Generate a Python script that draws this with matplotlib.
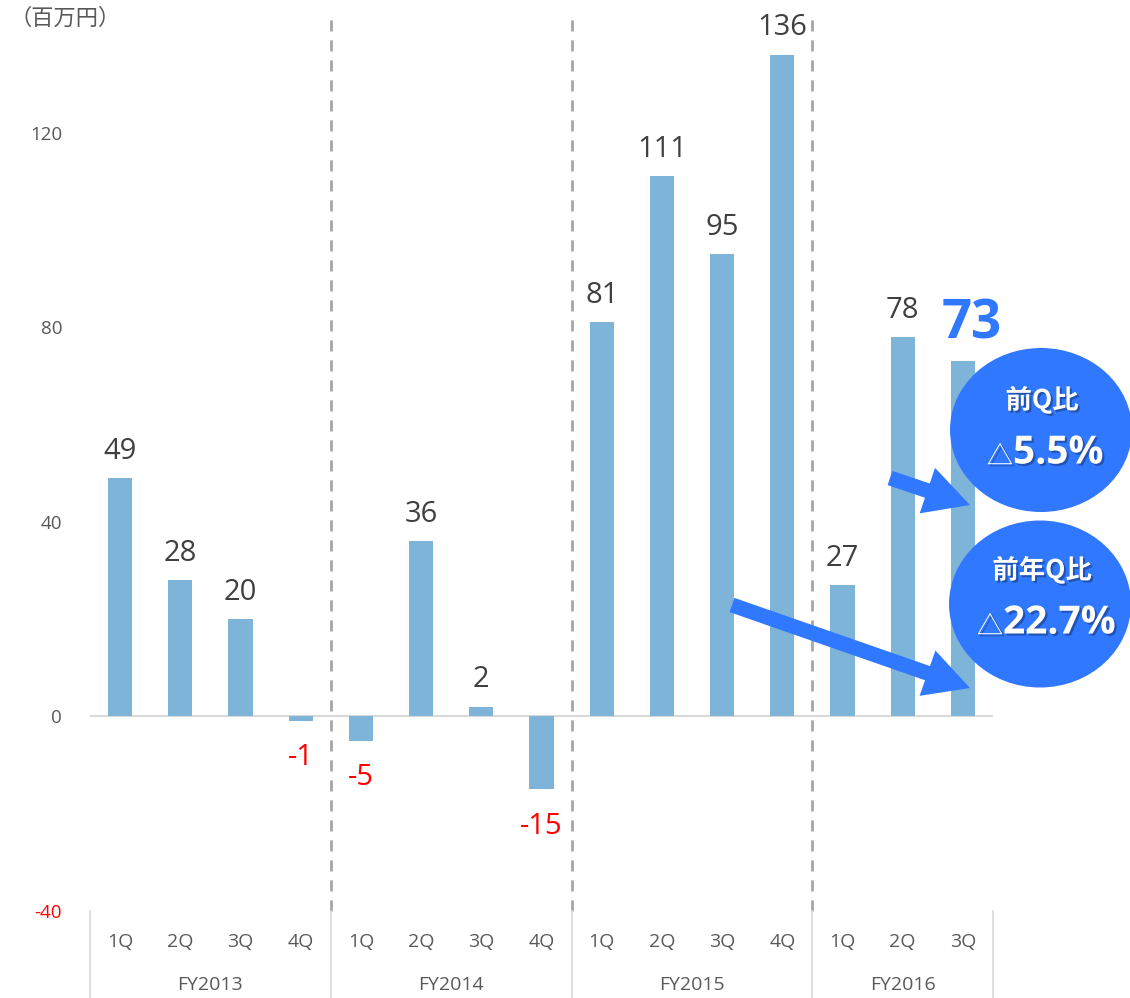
import matplotlib
matplotlib.use('Agg')
import matplotlib.pyplot as plt
import matplotlib.patheffects as pe
from matplotlib.patches import Ellipse, FancyArrow
import matplotlib.transforms as mtrans

plt.rcParams['font.family'] = ['Open Sans', 'Noto Sans CJK JP', 'DejaVu Sans']

quarters = ['1Q', '2Q', '3Q', '4Q', '1Q', '2Q', '3Q', '4Q',
            '1Q', '2Q', '3Q', '4Q', '1Q', '2Q', '3Q']
years = ['FY2013', 'FY2014', 'FY2015', 'FY2016']
year_sizes = [4, 4, 4, 3]
values = [49, 28, 20, -1, -5, 36, 2, -15, 81, 111, 95, 136, 27, 78, 73]
yticks = [-40, 0, 40, 80, 120]

bar_col = '#7EB4D8'
txt_col = '#595959'
blue = '#2F78FF'

fig = plt.figure(figsize=(11.3, 9.98), dpi=100)
ax = fig.add_axes([0.0796, 0.0872, 0.7992, 0.8968])
x = list(range(len(values)))
ax.bar(x, values, width=0.4, color=bar_col, zorder=2)
ax.set_xlim(-0.5, len(values) - 0.5)
ax.set_ylim(-40, 144)
for s in ax.spines.values():
    s.set_visible(False)
ax.axhline(0, color='#D9D9D9', lw=1.5, zorder=1)
ax.set_yticks(yticks)
ax.set_yticklabels([str(t) for t in yticks], fontsize=13.5, color=txt_col)
ax.tick_params(axis='y', length=0, pad=20)
ax.get_yticklabels()[0].set_color('red')
ax.set_xticks([])

# value labels
last = len(values) - 1
for i, v in enumerate(values):
    if i == last:
        ax.annotate(str(v), (i, v), xytext=(6, 7), textcoords='offset points',
                    ha='center', va='bottom', fontsize=38, fontweight='bold',
                    color=blue)
    elif v >= 0:
        ax.annotate(str(v), (i, v), xytext=(0, 9), textcoords='offset points',
                    ha='center', va='bottom', fontsize=21, color='#404040')
    else:
        ax.annotate(str(v), (i, v), xytext=(0, -16), textcoords='offset points',
                    ha='center', va='top', fontsize=21, color='red')

# group separators and two-level category axis
tr = mtrans.blended_transform_factory(ax.transData, ax.transAxes)
bounds = [-0.5]
for n in year_sizes:
    bounds.append(bounds[-1] + n)
for b in bounds[1:-1]:
    ax.plot([b, b], [0, 1], transform=tr, color='#A6A6A6', lw=2,
            ls=(0, (4, 3.2)), clip_on=False, zorder=1)
for b in bounds:
    ax.plot([b, b], [0, -0.1], transform=tr, color='#D9D9D9', lw=1.2,
            clip_on=False)
for i, q in enumerate(quarters):
    ax.text(i, -0.035, q, transform=tr, ha='center', va='center',
            fontsize=14, color=txt_col)
for k, fy in enumerate(years):
    ax.text((bounds[k] + bounds[k + 1]) / 2, -0.083, fy, transform=tr,
            ha='center', va='center', fontsize=14, color=txt_col)

fig.text(0.008, 0.982, '（百万円）', fontsize=16, color=txt_col,
         ha='left', va='center', family=['Noto Sans CJK JP', 'DejaVu Sans'])

# callouts (pixel overlay)
ov = fig.add_axes([0, 0, 1, 1], zorder=5)
ov.set_xlim(0, 1130)
ov.set_ylim(998, 0)
ov.axis('off')
ov.patch.set_alpha(0)

for (x0, y0, x1, y1) in [(890, 478, 970, 505), (732, 605, 970, 688)]:
    ov.add_patch(FancyArrow(x0, y0, x1 - x0, y1 - y0, width=15,
                            head_width=48, head_length=45,
                            length_includes_head=True, color=blue, lw=0))

ov.add_patch(Ellipse((1041, 430), 182, 164, color=blue, lw=0))
ov.add_patch(Ellipse((1040, 604), 182, 167, color=blue, lw=0))

shadow = [pe.withSimplePatchShadow(offset=(1.5, -1.5), shadow_rgbFace='#1a3a80',
                                   alpha=0.6)]
cjk = ['Noto Sans CJK JP', 'DejaVu Sans']
ov.text(1042, 400, '前Q比', ha='center', va='center', fontsize=19,
        fontweight='bold', color='white', family=cjk, path_effects=shadow)
ov.text(1042, 570, '前年Q比', ha='center', va='center', fontsize=19,
        fontweight='bold', color='white', family=cjk, path_effects=shadow)
ov.text(1000, 457, '△', ha='center', va='center', fontsize=19,
        color='white', family=cjk, path_effects=shadow)
ov.text(1013, 453, '5.5%', ha='left', va='center', fontsize=28,
        fontweight='bold', color='white', path_effects=shadow)
ov.text(990, 627, '△', ha='center', va='center', fontsize=19,
        color='white', family=cjk, path_effects=shadow)
ov.text(1003, 623, '22.7%', ha='left', va='center', fontsize=28,
        fontweight='bold', color='white', path_effects=shadow)

fig.savefig('out.png', dpi=100)
